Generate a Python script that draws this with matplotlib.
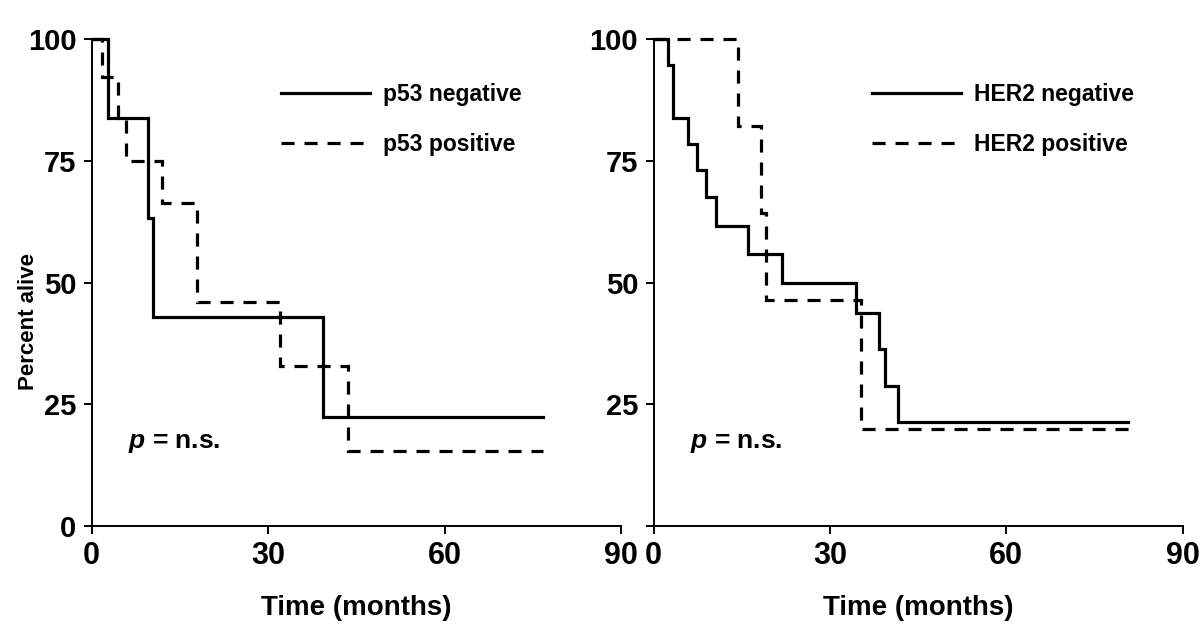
import matplotlib
matplotlib.use("Agg")
import matplotlib.pyplot as plt

# p53 panel (months, percent alive)
p53_neg_t = [0, 2.8, 9.6, 10.4, 39.3, 76.7]
p53_neg_s = [100, 83.8, 63.3, 43.0, 22.4, 22.4]
p53_pos_t = [0, 1.7, 4.4, 5.8, 11.9, 17.9, 32.0, 43.5, 76.7]
p53_pos_s = [100, 92.2, 83.8, 74.9, 66.4, 45.9, 32.9, 15.4, 15.4]

# HER2 panel
her2_neg_t = [0, 2.5, 3.4, 5.8, 7.4, 9.0, 10.6, 16.1, 21.8, 34.4, 38.4, 39.3, 41.6, 80.6]
her2_neg_s = [100, 94.7, 83.8, 78.4, 73.0, 67.5, 61.6, 55.8, 50.0, 43.7, 36.3, 28.7, 21.3, 21.3]
her2_pos_t = [0, 14.3, 18.2, 19.1, 35.2, 81.4]
her2_pos_s = [100, 82.2, 64.3, 46.4, 19.9, 19.9]

x_ticks = [0, 30, 60, 90]
y_ticks = [0, 25, 50, 75, 100]

BOLD = ['Liberation Sans', 'DejaVu Sans']
NARROW = ['Liberation Sans Narrow', 'Liberation Sans', 'DejaVu Sans']

plt.rcParams['mathtext.fontset'] = 'custom'
plt.rcParams['mathtext.it'] = 'Liberation Sans:bold:italic'
plt.rcParams['mathtext.rm'] = 'Liberation Sans:bold'

fig = plt.figure(figsize=(12, 6.3), dpi=100)
ax1 = fig.add_axes([91.7 / 1200, 1 - 526 / 630, 529.3 / 1200, 487 / 630])
ax2 = fig.add_axes([653.5 / 1200, 1 - 526 / 630, 529.3 / 1200, 487 / 630])

panels = [
    (ax1, p53_neg_t, p53_neg_s, p53_pos_t, p53_pos_s, 'p53 negative', 'p53 positive', 280.7),
    (ax2, her2_neg_t, her2_neg_s, her2_pos_t, her2_pos_s, 'HER2 negative', 'HER2 positive', 871.7),
]

for ax, nt, ns, pt, ps, lab_n, lab_p, leg_x in panels:
    ax.step(nt, ns, where='post', color='black', lw=2.3, clip_on=False,
            solid_joinstyle='miter', label=lab_n)
    ax.step(pt, ps, where='post', color='black', lw=2.3, clip_on=False,
            linestyle=(0, (4.1, 3.1)), dash_joinstyle='miter', dash_capstyle='butt', label=lab_p)

    ax.set_xlim(0, 90)
    ax.set_ylim(0, 100)
    for side in ['top', 'right']:
        ax.spines[side].set_visible(False)
    for side in ['left', 'bottom']:
        ax.spines[side].set_linewidth(1.4)
    ax.tick_params(direction='out', length=6, width=1.4, pad=5)
    ax.set_xticks(x_ticks)
    ax.set_xticklabels([str(v) for v in x_ticks], family=NARROW, weight='bold', fontsize=22)
    ax.set_yticks(y_ticks)

    ax.text(6.2, 17.0, '$p$ = n.s.', fontsize=19, weight='bold', family=BOLD, va='center')

    ax.set_xlabel('Time (months)', family=NARROW, weight='bold', fontsize=20, labelpad=17)

    ax.legend(loc='upper left', bbox_to_anchor=(leg_x / 1200, 1 - 83 / 630),
              bbox_transform=fig.transFigure, frameon=False, borderpad=0, borderaxespad=0,
              handlelength=3.9, handletextpad=0.57, labelspacing=1.2,
              prop={'family': BOLD, 'weight': 'bold', 'size': 16.5})

ax1.set_yticklabels([str(v) for v in y_ticks], family=BOLD, weight='bold', fontsize=21)
ax2.set_yticklabels([''] + [str(v) for v in y_ticks[1:]], family=BOLD, weight='bold', fontsize=21)
ax1.set_ylabel('Percent alive', family=NARROW, weight='bold', fontsize=16)
ax1.yaxis.set_label_coords(-0.1, 0.42)

fig.savefig('out.png', dpi=100)
